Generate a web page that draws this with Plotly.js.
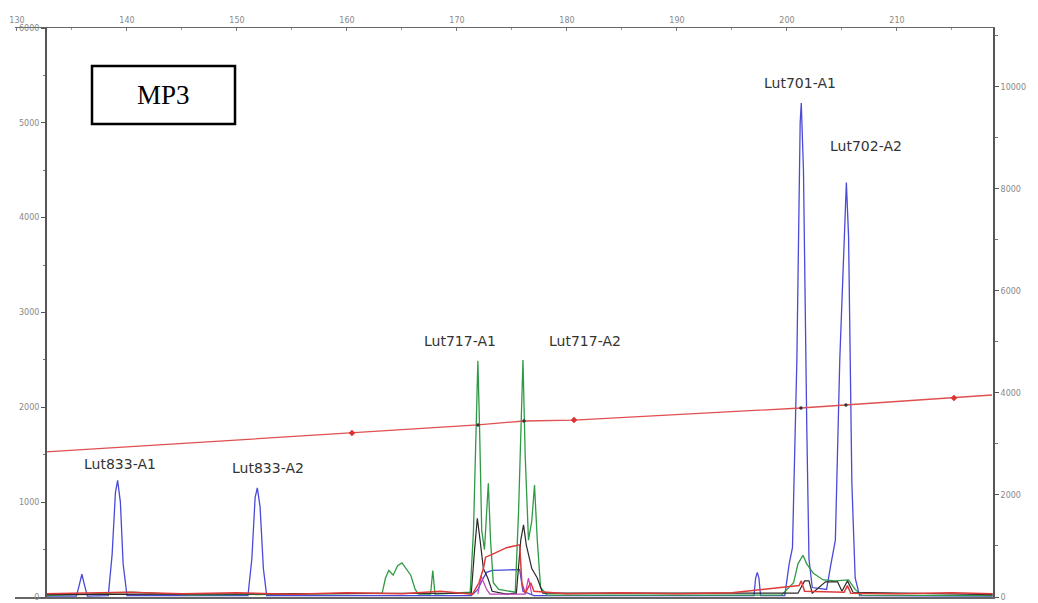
<!DOCTYPE html>
<html>
<head>
<meta charset="utf-8">
<script src="https://cdn.plot.ly/plotly-3.0.1.min.js"></script>
<style>html,body{margin:0;padding:0;background:#fff;}#chart{width:1038px;height:603px;}</style>
</head>
<body>
<div id="chart"></div>
<script>
// Data (x = size in bp, top ruler)
const blueX = [132.6,135.4,135.65,135.9,136.15,136.4,138.3,138.65,138.95,139.15,139.4,139.65,140.0,151.0,151.35,151.65,151.85,152.1,152.4,152.7,171.3,171.9,172.3,172.7,173.2,175.7,176.0,177.0,197.0,197.15,197.3,197.45,197.6,199.8,200.2,200.5,200.9,201.2,201.3,201.5,201.8,202.0,202.3,203.6,204.0,204.4,204.8,205.3,205.4,205.6,205.9,206.2,206.6,218.7];
const blueY = [10,10,120,240,120,10,15,450,1100,1230,1000,350,15,15,400,1050,1150,950,300,15,15,80,180,260,280,290,60,15,15,200,260,200,15,15,350,520,2500,5000,5210,4500,1800,400,100,80,350,600,2500,4250,4370,3800,1200,200,15,10];

const greenX = [132.6,140.5,146.0,155.0,163.2,163.5,163.8,164.2,164.6,165.0,165.4,165.8,166.2,166.5,167.6,167.8,168.0,171.2,171.5,171.8,171.9,172.05,172.25,172.5,172.7,172.85,173.05,173.3,173.8,175.3,175.6,175.9,176.0,176.2,176.5,176.8,177.05,177.3,177.6,178.2,199.5,200.6,201.0,201.45,201.8,202.4,203.3,204.4,205.6,206.2,206.8,218.7];
const greenY = [15,50,20,30,40,200,280,230,330,360,300,230,80,30,30,280,30,50,700,2300,2490,1800,700,500,900,1200,600,150,80,50,900,2300,2500,1500,600,800,1180,600,100,20,20,150,350,440,350,250,180,170,180,80,20,15];

const blackX = [132.6,171.3,171.6,171.85,172.1,172.4,172.8,173.2,174.5,175.4,175.8,176.05,176.3,176.8,177.3,177.8,201.0,201.6,202.0,202.3,203.5,204.6,205.0,205.5,206.0,218.7];
const blackY = [25,40,500,830,600,300,200,60,30,40,600,760,550,300,200,40,40,170,170,40,160,160,60,170,50,25];

const redX = [132.6,136.0,140.0,145.0,150.0,155.0,160.0,165.0,168.5,171.4,172.0,172.4,172.6,173.2,174.5,175.7,175.9,176.2,176.7,177.0,180.0,185.0,190.0,195.0,201.1,201.3,201.6,205.2,205.5,205.8,210.0,215.0,218.7];
const redY = [35,45,50,35,45,30,45,35,60,30,150,300,420,450,520,550,150,40,150,60,35,45,35,45,120,170,60,50,120,40,35,45,35];

const magentaX = [171.9,172.2,172.4,172.7,173.0,176.2,176.5,176.8];
const magentaY = [30,220,160,80,30,30,200,30];

const sizeX = [132.64,160.45,171.91,176.09,180.64,201.27,205.36,215.18,218.64];
const sizeY = [1530,1729,1814,1856,1866,1993,2025,2098,2130];
const sizeMarkX = [160.45,180.64,215.18];
const sizeMarkY = [1729,1866,2098];
const peakDotX = [171.91,176.09,201.27,205.36];
const peakDotY = [1814,1856,1993,2025];

const peakLabels = ["Lut833-A1","Lut833-A2","Lut717-A1","Lut717-A2","Lut701-A1","Lut702-A2"];
const labelX = [139.4,152.8,170.3,181.6,201.2,207.2];
const labelY = [1400,1360,2700,2700,5420,4760];

const leftTicks = [0,1000,2000,3000,4000,5000,6000];
const rightTicks = [0,2000,4000,6000,8000,10000];
const topTicks = [130,140,150,160,170,180,190,200,210];

const line = (x,y,c,w,name)=>({x:x,y:y,type:'scatter',mode:'lines',name:name,line:{color:c,width:w||1.2},hoverinfo:'skip'});

const traces = [
  line(blueX, blueY, '#4a4ad8', 1.3, 'blue'),
  line(greenX, greenY, '#2f9a45', 1.3, 'green'),
  line(blackX, blackY, '#2a2a2a', 1.2, 'black'),
  line(magentaX, magentaY, '#c040c0', 1.2, 'magenta'),
  line(redX, redY, '#e0393a', 1.5, 'red'),
  line(sizeX, sizeY, '#e05050', 1.3, 'size'),
  {x:sizeMarkX,y:sizeMarkY,type:'scatter',mode:'markers',marker:{symbol:'diamond',size:5,color:'#e03030'},hoverinfo:'skip'},
  {x:peakDotX,y:peakDotY,type:'scatter',mode:'markers',marker:{symbol:'circle',size:3.5,color:'#333'},hoverinfo:'skip'},
  {x:[132.64],y:[0],yaxis:'y2',type:'scatter',mode:'markers',marker:{size:1,opacity:0},hoverinfo:'skip'}
];

const axFont = {family:'DejaVu Sans',size:8,color:'#888'};

const annotations = peakLabels.map((t,i)=>({
  x:labelX[i], y:labelY[i], xref:'x', yref:'y', text:t, showarrow:false,
  font:{family:'DejaVu Sans',size:14,color:'#333'}, xanchor:'center', yanchor:'middle'
}));
annotations.push({xref:'paper',yref:'paper',x:(163.5-15)/978,y:(603-6-95)/569,text:'MP3',showarrow:false,
  font:{family:'Liberation Serif',size:27,color:'#000'},xanchor:'center',yanchor:'middle'});

const layout = {
  width:1038,height:603,
  margin:{l:15,r:45,t:28,b:6},
  paper_bgcolor:'#fff',plot_bgcolor:'#fff',
  showlegend:false,
  xaxis:{
    domain:[0,1], range:[129.82,218.73], side:'top',
    tickvals:topTicks, ticks:'inside', ticklen:3, tickcolor:'#777',
    minor:{dtick:5, tick0:130, ticks:'inside', ticklen:2, tickcolor:'#999'},
    tickfont:axFont, showgrid:false, zeroline:false,
    showline:true, linecolor:'#666', linewidth:1.5, mirror:true
  },
  yaxis:{
    range:[0,6000], anchor:'free', position:(46-15)/978,
    tickvals:leftTicks, ticks:'outside', ticklen:4, tickcolor:'#555',
    minor:{dtick:500, ticks:'outside', ticklen:2, tickcolor:'#777'},
    tickfont:axFont, showgrid:false, zeroline:false,
    showline:true, linecolor:'#555', linewidth:2
  },
  yaxis2:{
    range:[0,11150], overlaying:'y', side:'right', anchor:'x',
    tickvals:rightTicks, ticktext:rightTicks.map(String), ticks:'outside', ticklen:4, tickcolor:'#555',
    minor:{dtick:1000, ticks:'outside', ticklen:3, tickcolor:'#777'},
    tickfont:axFont, showgrid:false, zeroline:false,
    showline:true, linecolor:'#555', linewidth:2
  },
  shapes:[
    {type:'rect',xref:'paper',yref:'paper',x0:(92-15)/978,x1:(235-15)/978,y0:(603-6-124)/569,y1:(603-6-66)/569,
     line:{color:'#000',width:2.5},fillcolor:'rgba(255,255,255,1)'},
    {type:'line',xref:'paper',yref:'paper',x0:(46-15)/978,x1:(46-15)/978,y0:0,y1:1,line:{color:'#555',width:2}}
  ],
  annotations:annotations
};

Plotly.newPlot('chart', traces, layout, {staticPlot:true, displayModeBar:false});
</script>
</body>
</html>
